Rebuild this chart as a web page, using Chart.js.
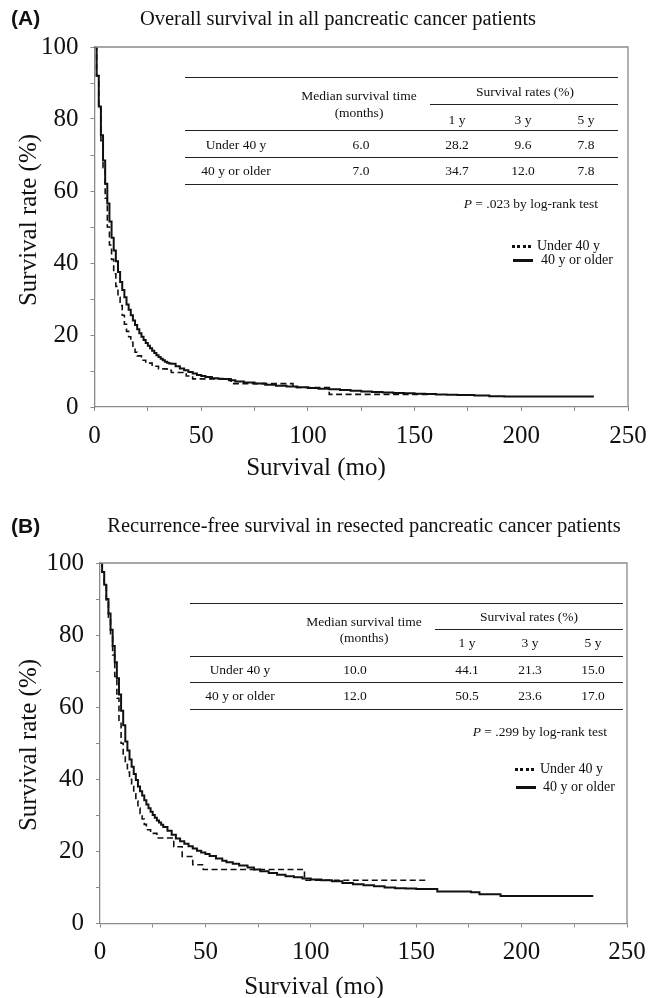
<!DOCTYPE html>
<html><head><meta charset="utf-8">
<script src="https://cdn.jsdelivr.net/npm/chart.js@4.4.1/dist/chart.umd.min.js"></script>
<style>
html,body{margin:0;padding:0;background:#fff;overflow:hidden;}
#wrap{position:relative;width:665px;height:998px;font-family:"Liberation Serif","Times New Roman",serif;color:#111;}
canvas{position:absolute;left:0;}
.t{position:absolute;white-space:nowrap;transform:translate(-50%,-50%);line-height:1;}
.l{position:absolute;white-space:nowrap;transform:translate(0,-50%);line-height:1;}
.r{position:absolute;white-space:nowrap;transform:translate(-100%,-50%);line-height:1;}
.hl{position:absolute;height:0;border-top:1.6px solid #222;}
.lab{font-family:"Liberation Sans",Arial,sans-serif;font-weight:bold;font-size:21px;}
</style></head><body><div id="wrap">
<canvas id="cA" width="665" height="490" style="top:0"></canvas>
<canvas id="cB" width="665" height="520" style="top:490px"></canvas>
</div>
<script>
// ---------- data ----------
const groups = ['Under 40 y', '40 y or older'];
const xTickLabels = ['0', '50', '100', '150', '200', '250'];
const yTickLabels = ['0', '20', '40', '60', '80', '100'];
const xAxisTitle = 'Survival (mo)';
const yAxisTitle = 'Survival rate (%)';

// Panel A: overall survival
const timeA_under = [0,1,2,3,4,5,6,7,8,9,10,11,12,13,14,15,16,17,18,19,20,22,24,27,30,34,36,43,46,64,93,110,157];
const survA_under = [100,92,83,74,66.5,58,50,45,41,37,33.5,30.5,28.2,25.5,23,21,19.5,18,16.5,15.2,14.2,13,12.2,11.3,10.6,10.2,9.6,8.6,7.8,6.5,5.4,3.5,3.5];
const timeA_older = [0,1,2,3,4,5,6,7,8,9,10,11,12,13,14,15,16,17,18,19,20,21,22,23,24,25,26,27,28,29,30,31,32,33,34,35,36,38,40,42,44,46,48,50,52,55,58,60,63,66,70,75,80,85,90,95,100,105,110,115,120,125,130,135,140,145,150,155,160,165,170,178,185,192,234];
const survA_older = [100,92,83.5,75.5,68.5,62,56.5,51.5,47,43.5,40.5,37.5,34.7,32.5,30.5,28.5,27,25.5,24,22.8,21.6,20.5,19.5,18.6,17.8,17,16.3,15.6,15,14.4,13.9,13.4,13,12.6,12.3,12.1,12.0,11.3,10.7,10.2,9.7,9.3,8.9,8.6,8.3,8.0,7.85,7.8,7.4,7.1,6.8,6.5,6.2,5.9,5.7,5.5,5.3,5.1,4.9,4.7,4.5,4.3,4.2,4.0,3.9,3.8,3.7,3.6,3.5,3.4,3.3,3.2,3.0,2.9,2.9];

// Panel B: recurrence-free survival
const timeB_under = [0,1,2,3,4,5,6,7,8,9,10,11,12,13,14,15,16,17,18,19,20,21,22,24,27,35,39,44,49,97,155];
const survB_under = [100,97.5,94,89,85,80,74.5,68.5,62.5,56,50,47,44.1,42,40,38,36,34,32,30.5,29,27.5,26,25,23.7,21.3,18.6,16.3,15.0,12.0,12.0];
const timeB_older = [0,1,2,3,4,5,6,7,8,9,10,11,12,13,14,15,16,17,18,19,20,21,22,23,24,25,26,27,28,29,30,32,34,36,38,40,42,44,46,48,50,52,55,58,60,63,66,70,73,76,80,84,88,92,96,100,105,110,115,120,125,130,135,140,145,150,160,176,180,190,234];
const survB_older = [100,97.5,94,90,86,81.5,77,72.5,68,63.5,59,55,50.5,48,45.5,43.5,41.5,39.8,38,36.7,35.5,34.2,33,32,31,30.1,29.3,28.6,28,27.4,26.8,25.7,24.6,23.6,22.8,22.1,21.4,20.8,20.2,19.7,19.3,18.7,18,17.4,17.0,16.6,16.1,15.5,15,14.5,14,13.5,13.1,12.8,12.5,12.2,12,11.7,11.2,10.9,10.6,10.3,10.0,9.8,9.7,9.6,8.9,8.7,8.1,7.6,7.6];

// Tables
const medianA = ['6.0', '7.0'];
const rate1yA = ['28.2', '34.7'];
const rate3yA = ['9.6', '12.0'];
const rate5yA = ['7.8', '7.8'];
const pValueA = '.023';
const medianB = ['10.0', '12.0'];
const rate1yB = ['44.1', '50.5'];
const rate3yB = ['21.3', '23.6'];
const rate5yB = ['15.0', '17.0'];
const pValueB = '.299';

const titleA = 'Overall survival in all pancreatic cancer patients';
const titleB = 'Recurrence-free survival in resected pancreatic cancer patients';

// ---------- charts ----------
const AXIS = '#8a8a8a';
const INK = '#111';
const SERIF = '"Liberation Serif","Times New Roman",serif';

const boxPlugin = {
  id: 'box',
  afterDraw(chart) {
    const a = chart.chartArea, c = chart.ctx;
    c.save();
    c.strokeStyle = AXIS; c.lineWidth = 1.3;
    c.beginPath();
    c.moveTo(a.left, a.top); c.lineTo(a.right, a.top); c.lineTo(a.right, a.bottom);
    c.stroke();
    c.restore();
  }
};

function pts(t, s) { return t.map((v, i) => ({x: v, y: s[i]})); }

function makeChart(id, under, older, g) {
  new Chart(document.getElementById(id), {
    type: 'line',
    data: {
      datasets: [
        {label: groups[0], data: under, borderColor: INK, borderWidth: 1.6, borderDash: [6, 3.5], stepped: 'before', pointRadius: 0, fill: false},
        {label: groups[1], data: older, borderColor: INK, borderWidth: 2, stepped: 'before', pointRadius: 0, fill: false}
      ]
    },
    options: {
      responsive: false, animation: false, devicePixelRatio: 1,
      layout: {padding: {top: g.top, right: g.right, left: 0, bottom: 0}},
      plugins: {legend: {display: false}, tooltip: {enabled: false}},
      scales: {
        x: {
          type: 'linear', min: 0, max: 250,
          afterFit: s => { s.height = g.xh; },
          border: {color: AXIS, width: 1.3},
          grid: {drawOnChartArea: false, drawTicks: true, tickLength: 4, color: AXIS},
          ticks: {stepSize: 25, autoSkip: false, maxRotation: 0, padding: 10, color: INK,
            font: {family: SERIF, size: 25},
            callback: v => xTickLabels.includes(String(v)) ? String(v) : ''},
          title: {display: false}
        },
        y: {
          min: 0, max: 100,
          afterFit: s => { s.width = g.yw; },
          border: {color: AXIS, width: 1.3},
          grid: {drawOnChartArea: false, drawTicks: true, tickLength: 4, color: AXIS},
          ticks: {stepSize: 10, autoSkip: false, padding: 12, color: INK,
            font: {family: SERIF, size: 25},
            callback: v => yTickLabels.includes(String(v)) ? String(v) : ''},
          title: {display: false}
        }
      }
    },
    plugins: [boxPlugin]
  });
}

makeChart('cA', pts(timeA_under, survA_under), pts(timeA_older, survA_older),
  {top: 47, right: 37, xh: 83, yw: 94.5});
makeChart('cB', pts(timeB_under, survB_under), pts(timeB_older, survB_older),
  {top: 73, right: 38, xh: 86.5, yw: 100});

// ---------- HTML text overlays ----------
const wrap = document.getElementById('wrap');
function txt(cls, x, y, html, size, extra) {
  const d = document.createElement('div');
  d.className = cls;
  d.style.left = x + 'px'; d.style.top = y + 'px';
  d.style.fontSize = size + 'px';
  if (extra) Object.assign(d.style, extra);
  d.innerHTML = html;
  wrap.appendChild(d);
  return d;
}
function hline(x0, x1, y, w) {
  const d = document.createElement('div');
  d.className = 'hl';
  d.style.left = x0 + 'px'; d.style.top = y + 'px'; d.style.width = (x1 - x0) + 'px';
  if (w) d.style.borderTopWidth = w + 'px';
  wrap.appendChild(d);
}

function panelText(p) {
  const lab = document.createElement('div');
  lab.className = 'lab l';
  lab.style.left = p.labX + 'px'; lab.style.top = p.labY + 'px';
  lab.textContent = p.label;
  wrap.appendChild(lab);
  txt('t', p.titleX, p.titleY, p.title, 20.5);

  // axis titles
  txt('t', p.xtX, p.xtY, xAxisTitle, 25);
  txt('t', p.ytX, p.ytY, yAxisTitle, 25, {transform: 'translate(-50%,-50%) rotate(-90deg)'});

  const T = p.tab, fs = 13.5;
  hline(T.x0, T.x1, T.top, 1.8);
  hline(T.spanX0, T.x1, T.spanY, 1.6);
  hline(T.x0, T.x1, T.headY, 1.8);
  hline(T.x0, T.x1, T.rowY, 1.6);
  hline(T.x0, T.x1, T.botY, 1.8);
  txt('t', T.medLX, T.medY1, 'Median survival time', fs);
  txt('t', T.medLX, T.medY2, '(months)', fs);
  txt('t', T.survX, T.survY, 'Survival rates (%)', fs);
  ['1 y', '3 y', '5 y'].forEach((s, i) => txt('t', T.colX[i], T.subY, s, fs));
  for (let r = 0; r < 2; r++) {
    txt('t', T.grpX, T.rowsY[r], groups[r], fs);
    txt('t', T.medVX, T.rowsY[r], p.median[r], fs);
    txt('t', T.colX[0], T.rowsY[r], p.r1[r], fs);
    txt('t', T.colX[1], T.rowsY[r], p.r3[r], fs);
    txt('t', T.colX[2], T.rowsY[r], p.r5[r], fs);
  }
  txt('r', p.pX, p.pY, '<i>P</i> = ' + p.pval + ' by log-rank test', fs);

  const L = p.leg;
  const dot = document.createElement('div');
  Object.assign(dot.style, {position: 'absolute', left: L.sx + 'px', top: (L.y1 - 1.5) + 'px', width: '20px', height: '3px',
    background: 'repeating-linear-gradient(90deg,#111 0 3px,transparent 3px 5.5px)'});
  wrap.appendChild(dot);
  const sol = document.createElement('div');
  Object.assign(sol.style, {position: 'absolute', left: (L.sx + 1) + 'px', top: (L.y2 - 1.5) + 'px', width: '20px', height: '3px', background: '#111'});
  wrap.appendChild(sol);
  txt('l', L.tx1, L.y1, groups[0], 14);
  txt('l', L.tx2, L.y2, groups[1], 14);
}

panelText({
  label: '(A)', labX: 11, labY: 17, title: titleA, titleX: 338, titleY: 18,
  xtX: 316, xtY: 466, ytX: 27, ytY: 220,
  median: medianA, r1: rate1yA, r3: rate3yA, r5: rate5yA, pval: pValueA, pX: 598, pY: 204,
  tab: {x0: 185, x1: 618, top: 77, spanX0: 430, spanY: 104, headY: 130, rowY: 157, botY: 183.5,
    medLX: 359, medY1: 96, medY2: 113, survX: 525, survY: 92, colX: [457, 523, 586], subY: 120,
    rowsY: [145, 171], grpX: 236, medVX: 361},
  leg: {sx: 512, y1: 246, y2: 260, tx1: 537, tx2: 541}
});
panelText({
  label: '(B)', labX: 11, labY: 525, title: titleB, titleX: 364, titleY: 525,
  xtX: 314, xtY: 985, ytX: 27, ytY: 745,
  median: medianB, r1: rate1yB, r3: rate3yB, r5: rate5yB, pval: pValueB, pX: 607, pY: 732,
  tab: {x0: 190, x1: 623, top: 603, spanX0: 435, spanY: 629, headY: 656, rowY: 682, botY: 708.5,
    medLX: 364, medY1: 622, medY2: 638, survX: 529, survY: 617, colX: [467, 530, 593], subY: 643,
    rowsY: [670, 696], grpX: 240, medVX: 355},
  leg: {sx: 515, y1: 769, y2: 787, tx1: 540, tx2: 543}
});
</script>
</body></html>
